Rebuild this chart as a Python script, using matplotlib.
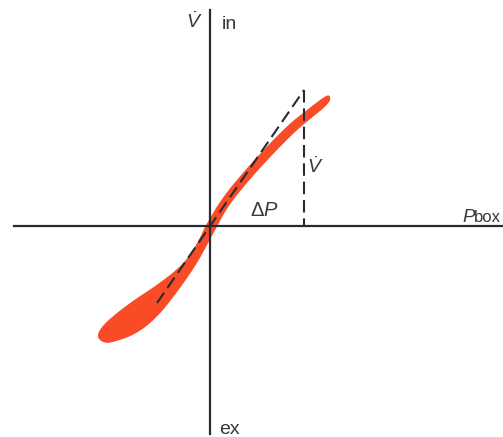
import numpy as np
import matplotlib
matplotlib.use("Agg")
import matplotlib.pyplot as plt

plt.rcParams['font.family'] = ['Liberation Sans', 'DejaVu Sans']
plt.rcParams['mathtext.fontset'] = 'custom'
plt.rcParams['mathtext.rm'] = 'Liberation Sans'
plt.rcParams['mathtext.it'] = 'Liberation Sans:italic'

# Edges of the flow band: pressure difference (x) against flow (y),
# both running from the wide tip (expiration) to the narrow end (inspiration)
upper_dp = [-1.13, -1.08, -0.95, -0.75, -0.55, -0.35, -0.23, -0.15, -0.09, -0.04,
            0.12, 0.35, 0.59, 0.80, 0.94, 1.16, 1.20]
upper_flow = [-1.11, -1.01, -0.89, -0.74, -0.61, -0.46, -0.34, -0.22, -0.11, 0.00,
              0.27, 0.55, 0.81, 1.02, 1.13, 1.30, 1.30]
lower_dp = [-1.05, -0.95, -0.80, -0.65, -0.50, -0.35, -0.20, -0.10, -0.02, 0.05,
            0.18, 0.41, 0.65, 0.85, 0.98, 1.19]
lower_flow = [-1.17, -1.15, -1.10, -1.01, -0.87, -0.68, -0.47, -0.31, -0.16, -0.03,
              0.21, 0.49, 0.75, 0.95, 1.06, 1.23]

# Linear reference (constant resistance) and the flow marker at its end
lin_dp = [-0.53, 0.94]
lin_flow = [-0.77, 1.36]

# Axis extents
x_lo, x_hi = -1.96, 2.93
y_lo, y_hi = -2.08, 2.16


def smooth_outline(xs, ys, passes=3):
    """ Round off a closed outline by corner cutting """
    pts = np.column_stack([xs, ys])
    for _ in range(passes):
        nxt = np.roll(pts, -1, axis=0)
        out = np.empty((2 * len(pts), 2))
        out[0::2] = 0.75 * pts + 0.25 * nxt
        out[1::2] = 0.25 * pts + 0.75 * nxt
        pts = out
    return pts[:, 0], pts[:, 1]


fig = plt.figure(figsize=(5.03, 4.37), dpi=100)
ax = fig.add_axes([0, 0, 1, 1])
ax.set_xlim(-2.10, 2.93)
ax.set_ylim(-2.11, 2.26)

axis_color = '#2a2a36'
text_color = '#383838'
red = '#f94b26'

# Axes through the origin
for side in ['top', 'right']:
    ax.spines[side].set_visible(False)
ax.spines['left'].set_position(('data', 0))
ax.spines['bottom'].set_position(('data', 0))
ax.spines['left'].set_bounds(y_lo, y_hi)
ax.spines['bottom'].set_bounds(x_lo, x_hi)
for side in ['left', 'bottom']:
    ax.spines[side].set_color(axis_color)
    ax.spines[side].set_linewidth(1.6)
ax.set_xticks([])
ax.set_yticks([])

# Flow band
band_x = upper_dp + lower_dp[::-1]
band_y = upper_flow + lower_flow[::-1]
sx, sy = smooth_outline(band_x, band_y)
ax.fill(sx, sy, color=red, lw=0.8, ec=red, joinstyle='round', zorder=2)

# Dashed linear relation and flow marker
ax.plot(lin_dp, lin_flow, color=axis_color, lw=1.5, dashes=(6, 2.8), zorder=3)
ax.plot([lin_dp[1], lin_dp[1]], [lin_flow[1], 0], color=axis_color, lw=1.5,
        dashes=(6, 2.8), zorder=3)

# Labels
ax.text(-0.16, 1.98, r'$\dot{V}$', fontsize=14, color=text_color, ha='center', va='baseline')
ax.text(0.12, 1.97, 'in', fontsize=14, color=text_color, ha='left', va='baseline')
ax.text(0.09, -2.08, 'ex', fontsize=14, color=text_color, ha='left', va='baseline')
ax.text(0.40, 0.10, r'$\Delta\mathit{P}$', fontsize=14.5, color=text_color, ha='left', va='baseline')
ax.text(1.05, 0.53, r'$\dot{V}$', fontsize=14, color=text_color, ha='center', va='baseline')
ax.text(2.52, 0.04, 'P', fontsize=13.5, style='italic', color=text_color, ha='left', va='baseline')
ax.text(2.635, 0.04, 'box', fontsize=12, color=text_color, ha='left', va='baseline')

fig.savefig('out.png', dpi=100, facecolor='white')
